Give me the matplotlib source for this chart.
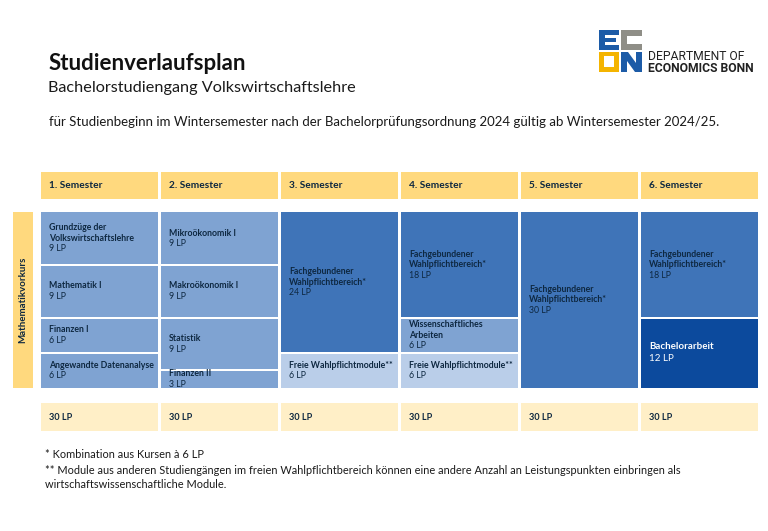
import matplotlib
matplotlib.use("Agg")
import matplotlib.pyplot as plt
from matplotlib.patches import Rectangle, Polygon

plt.rcParams['font.family'] = ['Lato', 'DejaVu Sans']

# ---------------- data ----------------
semesters = ["1. Semester", "2. Semester", "3. Semester",
             "4. Semester", "5. Semester", "6. Semester"]
semester_totals = [30, 30, 30, 30, 30, 30]

sem1_modules = ["Grundzüge der\nVolkswirtschaftslehre", "Mathematik I", "Finanzen I", "Angewandte Datenanalyse"]
sem1_lp = [9, 9, 6, 6]
sem1_kind = ["pflicht", "pflicht", "pflicht", "pflicht"]

sem2_modules = ["Mikroökonomik I", "Makroökonomik I", "Statistik", "Finanzen II"]
sem2_lp = [9, 9, 9, 3]
sem2_kind = ["pflicht", "pflicht", "pflicht", "pflicht"]

sem3_modules = ["Fachgebundener\nWahlpflichtbereich*", "Freie Wahlpflichtmodule**"]
sem3_lp = [24, 6]
sem3_kind = ["wahl", "frei"]

sem4_modules = ["Fachgebundener\nWahlpflichtbereich*", "Wissenschaftliches\nArbeiten", "Freie Wahlpflichtmodule**"]
sem4_lp = [18, 6, 6]
sem4_kind = ["wahl", "pflicht", "frei"]

sem5_modules = ["Fachgebundener\nWahlpflichtbereich*"]
sem5_lp = [30]
sem5_kind = ["wahl"]

sem6_modules = ["Fachgebundener\nWahlpflichtbereich*", "Bachelorarbeit"]
sem6_lp = [18, 12]
sem6_kind = ["wahl", "thesis"]

side_label = "Mathematikvorkurs"
title = "Studienverlaufsplan"
subtitle = "Bachelorstudiengang Volkswirtschaftslehre"
note = ("für Studienbeginn im Wintersemester nach der Bachelorprüfungsordnung 2024 "
        "gültig ab Wintersemester 2024/25.")
footnotes = ["* Kombination aus Kursen à 6 LP",
             "** Module aus anderen Studiengängen im freien Wahlpflichtbereich können eine andere Anzahl an Leistungspunkten einbringen als",
             "wirtschaftswissenschaftliche Module."]

# ---------------- style ----------------
fill = {"pflicht": "#7FA3D2", "wahl": "#3F74B8", "frei": "#BACEE9", "thesis": "#0C4A9D"}
txtc = {"pflicht": "#0E2841", "wahl": "#0E2841", "frei": "#0E2841", "thesis": "#FFFFFF"}
fsz = {"pflicht": 6.3, "wahl": 6.3, "frei": 6.3, "thesis": 7.0}
HEAD = "#FFD97E"
FOOT = "#FFEFC7"
NAVY = "#0E2841"

W, H = 768, 531
fig = plt.figure(figsize=(W / 100, H / 100), dpi=100)
fig.patch.set_facecolor("white")


def box(l, t, w, h):
    return [l / W, 1 - (t + h) / H, w / W, h / H]


# overlay axes in pixel coordinates for page decorations
ov = fig.add_axes([0, 0, 1, 1])
ov.set_xlim(0, W)
ov.set_ylim(H, 0)
ov.axis("off")

ov.text(49, 70, title, fontsize=16, fontweight="bold", color="#111111", va="baseline", ha="left")
ov.text(48.5, 92, subtitle, fontsize=11.7, color="#1a1a1a", va="baseline", ha="left")
ov.text(49, 126, note, fontsize=9.5, color="#1a1a1a", va="baseline", ha="left")
for k, line in enumerate(footnotes):
    ov.text(45, 455 + 15 * k, line, fontsize=7.9, color="#1a1a1a", va="center", ha="left")

# Mathematikvorkurs bar
ov.add_patch(Rectangle((13, 212), 20, 176, color=HEAD, lw=0))
ov.text(23, 300, side_label, rotation=90, fontsize=7, fontweight="bold", color=NAVY,
        ha="center", va="center")

# logo
blue, grey, yel = "#1C5BA7", "#8F8E87", "#F4B400"
ov.add_patch(Rectangle((599, 30), 20, 20, color=blue, lw=0))
ov.add_patch(Rectangle((605, 35), 14, 3, color="white", lw=0))
ov.add_patch(Rectangle((605, 42), 14, 3, color="white", lw=0))
ov.add_patch(Rectangle((616, 38), 3, 4, color="white", lw=0))
ov.add_patch(Rectangle((621, 30), 21, 20, color=grey, lw=0))
ov.add_patch(Rectangle((627, 36), 15, 8, color="white", lw=0))
ov.add_patch(Rectangle((599, 52), 20, 20, color=yel, lw=0))
ov.add_patch(Rectangle((604, 56), 10, 11, color="white", lw=0))
ov.add_patch(Polygon([(621, 72), (621, 52), (628, 52), (636, 63), (636, 52), (642, 52),
                      (642, 72), (635, 72), (627, 61), (627, 72)], closed=True, color=blue, lw=0))
ov.text(648, 60.5, "DEPARTMENT OF", fontsize=8.7, color="#222222", va="baseline", ha="left",
        family=["Roboto", "DejaVu Sans"])
ov.text(648, 72, "ECONOMICS BONN", fontsize=8.7, color="#222222", va="baseline", ha="left",
        fontweight="bold", family=["Roboto", "DejaVu Sans"])

gap = 3 / 120.0
ncol = len(semesters)

# header row
axh = fig.add_axes(box(41, 172, 717, 27))
axh.set_xlim(0, ncol - gap)
axh.set_ylim(0, 1)
axh.axis("off")
axh.bar(range(ncol), [1] * ncol, width=1 - gap, align="edge", color=HEAD, lw=0)
for i, s in enumerate(semesters):
    axh.annotate(s, (i, 0.5), xytext=(5.8, 0), textcoords="offset points",
                 fontsize=7.3, fontweight="bold", color=NAVY, va="center", ha="left")

# totals row
axt = fig.add_axes(box(41, 403, 717, 28))
axt.set_xlim(0, ncol - gap)
axt.set_ylim(0, 1)
axt.axis("off")
axt.bar(range(ncol), [1] * ncol, width=1 - gap, align="edge", color=FOOT, lw=0)
for i, v in enumerate(semester_totals):
    axt.annotate(f"{v} LP", (i, 0.5), xytext=(5.8, 0), textcoords="offset points",
                 fontsize=6.6, fontweight="bold", color=NAVY, va="center", ha="left")

# module grid
ax = fig.add_axes(box(41, 212, 717, 176))
ax.set_xlim(0, ncol - gap)
ax.set_ylim(30, 0)
ax.axis("off")

cols = [(sem1_modules, sem1_lp, sem1_kind), (sem2_modules, sem2_lp, sem2_kind),
        (sem3_modules, sem3_lp, sem3_kind), (sem4_modules, sem4_lp, sem4_kind),
        (sem5_modules, sem5_lp, sem5_kind), (sem6_modules, sem6_lp, sem6_kind)]
vgap = 2 * 30 / 176.0

for i, (mods, lps, kinds) in enumerate(cols):
    cum = 0
    for name, lp, kind in zip(mods, lps, kinds):
        b0 = cum + (vgap / 2 if cum > 0 else 0)
        b1 = cum + lp - (vgap / 2 if cum + lp < 30 else 0)
        ax.bar(i, b1 - b0, bottom=b0, width=1 - gap, align="edge", color=fill[kind], lw=0)
        lines = name.split("\n") + [f"{lp} LP"]
        n = len(lines)
        fs = fsz[kind]
        pitch = fs * 1.2
        ymid = cum + lp / 2
        for k, line in enumerate(lines):
            off = ((n - 1) / 2 - k) * pitch
            ax.annotate(line, (i, ymid), xytext=(5.8, off), textcoords="offset points",
                        fontsize=fs, fontweight="bold" if k < n - 1 else "normal",
                        color=txtc[kind], va="center", ha="left")
        cum += lp

fig.savefig("out.png", dpi=100, facecolor="white")
